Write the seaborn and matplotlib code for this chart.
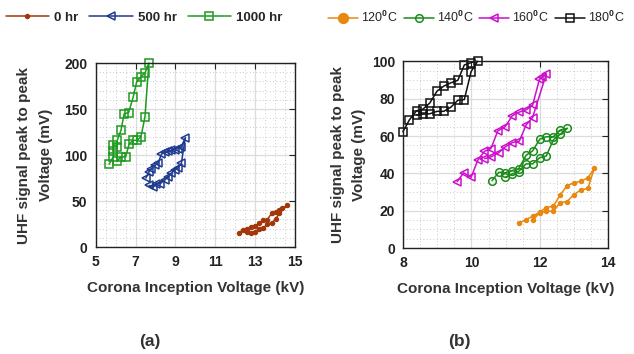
import numpy as np
import matplotlib
matplotlib.use("Agg")
import matplotlib.pyplot as plt
import seaborn as sns
from matplotlib import font_manager
from matplotlib.ticker import MultipleLocator


# (a) 노화 시간별 데이터: CIV(kV) vs UHF 피크-피크 전압(mV)
hr0_x = [12.18, 12.38, 12.58, 12.8, 13.0, 13.22, 13.42, 13.6, 13.83, 14.05, 14.22, 14.38, 14.63,
         14.22, 14.05, 13.83, 13.6, 13.42, 13.22, 13.0, 12.8, 12.58]
hr0_y = [15.5, 18.4, 19.2, 22.0, 22.8, 25.7, 29.3, 29.3, 36.5, 37.6, 40.1, 42.0, 45.6,
         36.5, 31.0, 25.7, 25.0, 20.3, 19.5, 16.6, 14.9, 16.6]

hr500_x = [7.52, 7.68, 7.8, 7.97, 8.13, 8.3, 8.47, 8.63, 8.8, 8.97, 9.13, 9.3, 9.5,
           9.3, 9.13, 8.97, 8.8, 8.63, 8.47, 8.25, 8.05, 7.88, 7.68]
hr500_y = [75, 82, 85, 89, 91, 101, 103, 104, 105, 106, 107, 109, 119,
           91, 86, 84, 80, 76, 73, 69, 69, 65, 67]

hr1000_x = [5.67, 5.88, 5.88, 5.88, 6.08, 6.08, 6.27, 6.43, 6.65, 6.88, 7.05, 7.27, 7.47, 7.67,
            7.47, 7.27, 7.08, 6.88, 6.68, 6.5, 6.25, 6.08]
hr1000_y = [90, 98, 104, 111, 109, 116, 127, 145, 146, 163, 179, 185, 189, 200,
            141, 120, 116, 116, 112, 98, 98, 93]

# (b) 온도별 데이터
t120_x = [11.4, 11.6, 11.8, 12.0, 12.19, 12.4, 12.6, 12.8, 12.99, 13.2, 13.41, 13.6,
          13.41, 13.2, 12.99, 12.8, 12.6, 12.4, 12.19, 12.0, 11.8]
t120_y = [13.5, 15.3, 17.1, 19.3, 21.7, 22.5, 28.5, 33.4, 34.9, 35.8, 37.6, 42.8,
          32.0, 31.1, 28.5, 24.9, 24.4, 19.8, 19.8, 19.0, 15.0]

t140_x = [10.6, 10.8, 10.99, 11.19, 11.38, 11.6, 11.79, 12.0, 12.19, 12.4, 12.6, 12.81,
          12.6, 12.4, 12.19, 12.0, 11.79, 11.6, 11.38, 11.19, 10.99]
t140_y = [36.1, 40.6, 40.3, 41.5, 42.4, 49.7, 52.0, 58.3, 59.6, 59.6, 63.2, 64.1,
          60.9, 58.0, 49.3, 48.4, 45.1, 45.1, 41.0, 39.7, 37.9]

t160_x = [9.58, 9.77, 9.99, 10.18, 10.38, 10.57, 10.77, 10.99, 11.19, 11.4, 11.6, 11.79,
          11.99, 12.08, 12.19, 11.79, 11.6, 11.4, 11.2, 10.99, 10.8, 10.57, 10.38]
t160_y = [35.6, 40.3, 37.9, 46.9, 51.8, 53.3, 62.7, 65.0, 70.8, 72.8, 74.0, 76.4,
          90.3, 91.6, 93.0, 69.9, 65.9, 57.2, 56.5, 54.2, 51.1, 48.8, 47.9]

t180_x = [7.99, 8.18, 8.39, 8.58, 8.78, 8.99, 9.19, 9.4, 9.6, 9.79, 9.99, 10.18,
          9.99, 9.79, 9.6, 9.4, 9.19, 8.99, 8.78, 8.58, 8.39]
t180_y = [62.3, 68.6, 73.5, 74.4, 77.7, 84.0, 86.7, 88.5, 89.8, 98.0, 99.3, 100.0,
          94.5, 79.5, 79.1, 75.5, 73.2, 73.2, 71.9, 71.7, 71.3]

# 눈금
a_xticks = [5, 7, 9, 11, 13, 15]
a_yticks = [0, 50, 100, 150, 200]
b_xticks = [8, 10, 12, 14]
b_yticks = [0, 20, 40, 60, 80, 100]


sns.set_style("whitegrid")
plt.rcParams['font.family'] = ['Liberation Sans', 'DejaVu Sans']
plt.rcParams['font.weight'] = 'bold'
plt.rcParams['axes.labelweight'] = 'bold'
plt.rcParams['mathtext.fontset'] = 'custom'
plt.rcParams['mathtext.rm'] = 'Liberation Sans'
plt.rcParams['mathtext.it'] = 'Liberation Sans'

# 오른쪽 범례는 좁은 글꼴 (없으면 그냥 Liberation Sans)
installed = {f.name for f in font_manager.fontManager.ttflist}
narrow = 'Liberation Sans Narrow' if 'Liberation Sans Narrow' in installed else 'Liberation Sans'
narrow_size = 10 if narrow == 'Liberation Sans Narrow' else 9

fig = plt.figure(figsize=(6.34, 3.54), dpi=100)
ax1 = fig.add_axes([0.151, 0.302, 0.314, 0.520])
ax2 = fig.add_axes([0.636, 0.299, 0.323, 0.528])


def draw(ax, x, y, color, marker, size, filled, label):
    sns.lineplot(
        x=x, y=y, ax=ax, sort=False, estimator=None, legend=False,
        color=color, linewidth=1.1, marker=marker, markersize=size,
        markerfacecolor=color if filled else 'none',
        markeredgecolor=color, markeredgewidth=1.1, label=label,
        clip_on=False,
    )


draw(ax1, hr0_x, hr0_y, '#a3370c', 'o', 2.8, True, '0 hr')
draw(ax1, hr500_x, hr500_y, '#1f3a8f', '<', 5.5, False, '500 hr')
draw(ax1, hr1000_x, hr1000_y, '#1e9a1e', 's', 5.5, False, '1000 hr')

draw(ax2, t120_x, t120_y, '#e8880f', 'o', 2.8, True, '120$^0$C')
draw(ax2, t140_x, t140_y, '#1a8c1a', 'o', 5.5, False, '140$^0$C')
draw(ax2, t160_x, t160_y, '#cc10cc', '<', 6, False, '160$^0$C')
draw(ax2, t180_x, t180_y, '#111111', 's', 5.5, False, '180$^0$C')


def style(ax, xticks, yticks, ymin):
    ax.set_xlim(xticks[0], xticks[-1])
    ax.set_ylim(yticks[0], yticks[-1])
    ax.set_xticks(xticks)
    ax.set_yticks(yticks)
    ax.xaxis.set_minor_locator(MultipleLocator(0.5))
    ax.yaxis.set_minor_locator(MultipleLocator(ymin))
    ax.grid(which='major', color='#dcdcdc', linewidth=0.9, linestyle='-')
    ax.grid(which='minor', color='#b8b8b8', linewidth=0.6, linestyle=(0, (1, 3)))
    ax.set_axisbelow(True)
    for s in ax.spines.values():
        s.set_color('#222222')
        s.set_linewidth(1.0)
    ax.tick_params(which='major', direction='in', length=4, width=0.8,
                   top=True, right=True, labelsize=10, pad=6, colors='#222222')
    ax.tick_params(which='minor', length=0)
    for t in ax.get_xticklabels() + ax.get_yticklabels():
        t.set_fontweight('bold')
    ax.set_xlabel('Corona Inception Voltage (kV)', fontsize=11, color='#333333', labelpad=8)
    ax.set_ylabel('UHF signal peak to peak\nVoltage (mV)', fontsize=11, color='#333333',
                  linespacing=1.7)


style(ax1, a_xticks, a_yticks, 10)
style(ax2, b_xticks, b_yticks, 5)
ax1.yaxis.set_label_coords(-0.215, 0.5)
ax2.yaxis.set_label_coords(-0.18, 0.5)

# 범례는 그림 맨 위에 한 줄로
h1, l1 = ax1.get_legend_handles_labels()
fig.legend(h1, l1, loc='center left', bbox_to_anchor=(-0.01, 0.95), ncol=3,
           frameon=False, handlelength=3.3, columnspacing=0.8, handletextpad=0.4,
           prop={'weight': 'bold', 'size': 9.5})

h2, l2 = ax2.get_legend_handles_labels()
leg2 = fig.legend(h2, l2, loc='center left', bbox_to_anchor=(0.5, 0.95), ncol=4,
                  frameon=False, handlelength=2.4, columnspacing=0.45, handletextpad=0.25,
                  prop={'family': narrow, 'weight': 'normal', 'size': narrow_size})
leg2.legend_handles[0].set_markersize(7)

fig.text(0.237, 0.035, '(a)', ha='center', va='center', fontsize=12.5, fontweight='bold',
         color='#333333')
fig.text(0.725, 0.035, '(b)', ha='center', va='center', fontsize=12.5, fontweight='bold',
         color='#333333')

fig.savefig('out.png', dpi=100)
